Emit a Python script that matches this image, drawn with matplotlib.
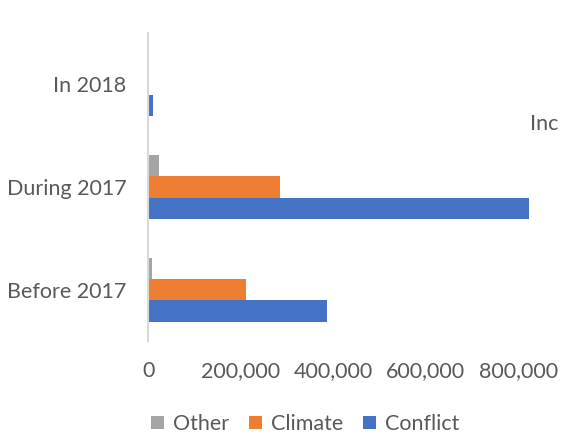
import matplotlib.pyplot as plt
import numpy as np
from matplotlib.ticker import FuncFormatter

# people displaced, by period and cause
periods = ["Before 2017", "During 2017", "In 2018"]
other = [8200, 23400, 0]
climate = [211500, 285300, 0]
conflict = [387000, 824000, 10000]

tick_values = [0, 200000, 400000, 600000, 800000]

text_color = "#595959"
fs = 15.5
plt.rcParams["font.family"] = ["Lato", "DejaVu Sans"]

fig = plt.figure(figsize=(5.62, 4.37), dpi=100)
ax = fig.add_axes([0.2642, 0.2192, 1 - 0.2642, 0.9256 - 0.2192])

y = np.arange(len(periods))
h = 0.207
ax.barh(y + h, other, height=h, color="#A5A5A5", label="Other")
ax.barh(y, climate, height=h, color="#ED7D31", label="Climate")
ax.barh(y - h, conflict, height=h, color="#4472C4", label="Conflict")

ax.set_ylim(-0.5, 2.5)
ax.set_xlim(0, 895000)
ax.set_yticks(y)
ax.set_yticklabels(periods)
ax.set_xticks(tick_values)
ax.xaxis.set_major_formatter(FuncFormatter(lambda v, p: f"{int(v):,}"))

for side in ["top", "right", "bottom"]:
    ax.spines[side].set_visible(False)
ax.spines["left"].set_color("#d9d9d9")
ax.spines["left"].set_linewidth(1.5)
ax.tick_params(axis="both", length=0, labelsize=fs, colors=text_color)
ax.tick_params(axis="y", pad=16)
ax.tick_params(axis="x", pad=14)

fig.legend(loc="center", bbox_to_anchor=(0.543, 1 - 424 / 437), ncol=3, frameon=False,
           fontsize=fs, labelcolor=text_color, handlelength=0.6, handleheight=0.6,
           handletextpad=0.4, columnspacing=0.95)

fig.text(530 / 562, 1 - 124 / 437, "Inc", fontsize=fs, color=text_color, va="center")

fig.savefig("out.png", dpi=100)
